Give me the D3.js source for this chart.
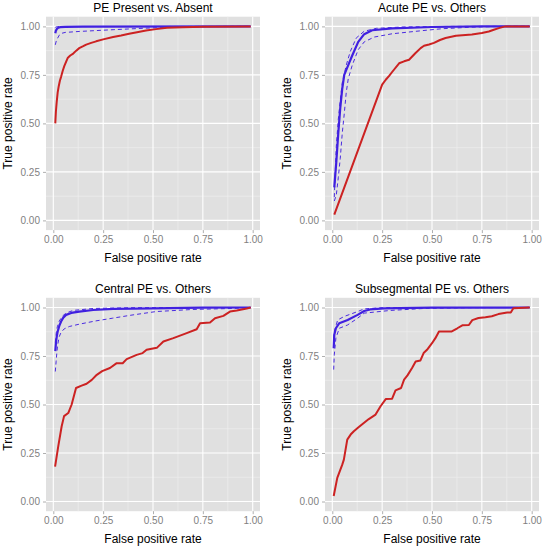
<!DOCTYPE html>
<html><head><meta charset="utf-8">
<script src="https://cdn.jsdelivr.net/npm/d3@7"></script>
<style>html,body{margin:0;padding:0;background:#fff;}</style>
</head><body>
<script>
// ---- Data (FPR, TPR) ----
const titles = ["PE Present vs. Absent","Acute PE vs. Others","Central PE vs. Others","Subsegmental PE vs. Others"];
const tickValues = [0,0.25,0.5,0.75,1];
const tickLabels = ["0.00","0.25","0.50","0.75","1.00"];
const xTitle = "False positive rate";
const yTitle = "True positive rate";

// Panel 1: PE Present vs. Absent
const p1Red = [[0.01,0.50],[0.013,0.56],[0.017,0.61],[0.022,0.66],[0.027,0.69],[0.033,0.72],[0.039,0.74],[0.047,0.77],[0.055,0.795],[0.065,0.82],[0.072,0.837],[0.085,0.85],[0.10,0.86],[0.115,0.875],[0.13,0.888],[0.15,0.898],[0.165,0.906],[0.19,0.915],[0.215,0.923],[0.25,0.933],[0.30,0.945],[0.34,0.953],[0.38,0.962],[0.42,0.97],[0.465,0.979],[0.515,0.986],[0.57,0.993],[0.65,0.996],[0.75,0.998],[0.99,1.0]];
const p1Blue = [[0.01,0.965],[0.013,0.978],[0.018,0.987],[0.025,0.993],[0.035,0.996],[0.06,0.998],[0.15,0.999],[0.99,1.0]];
const p1BlueLo = [[0.01,0.905],[0.015,0.925],[0.022,0.94],[0.03,0.955],[0.04,0.964],[0.06,0.969],[0.13,0.974],[0.30,0.983],[0.465,0.991],[0.6,0.996],[0.75,0.999],[0.99,1.0]];
const p1BlueHi = [[0.01,0.995],[0.02,0.999],[0.99,1.0]];

// Panel 2: Acute PE vs. Others
const p2Red = [[0.01,0.03],[0.25,0.70],[0.268,0.725],[0.285,0.745],[0.30,0.765],[0.335,0.81],[0.36,0.82],[0.385,0.828],[0.415,0.86],[0.443,0.888],[0.46,0.90],[0.485,0.907],[0.51,0.915],[0.54,0.93],[0.568,0.94],[0.62,0.952],[0.70,0.958],[0.75,0.966],[0.785,0.974],[0.81,0.983],[0.835,0.991],[0.868,1.0],[0.99,1.0]];
const p2Blue = [[0.01,0.17],[0.02,0.30],[0.03,0.45],[0.04,0.58],[0.05,0.68],[0.06,0.75],[0.08,0.80],[0.10,0.85],[0.13,0.92],[0.16,0.96],[0.20,0.98],[0.30,0.99],[0.50,0.997],[0.75,1.0],[0.99,1.0]];
const p2BlueHi = [[0.01,0.12],[0.02,0.38],[0.03,0.52],[0.04,0.62],[0.05,0.71],[0.07,0.80],[0.09,0.87],[0.12,0.94],[0.16,0.975],[0.22,0.99],[0.35,0.997],[0.6,1.0],[0.99,1.0]];
const p2BlueLo = [[0.01,0.10],[0.02,0.13],[0.03,0.22],[0.04,0.32],[0.05,0.45],[0.06,0.55],[0.07,0.66],[0.08,0.73],[0.10,0.80],[0.13,0.88],[0.16,0.92],[0.21,0.945],[0.30,0.962],[0.45,0.978],[0.55,0.988],[0.70,0.996],[0.85,1.0],[0.99,1.0]];

// Panel 3: Central PE vs. Others
const p3Red = [[0.009,0.18],[0.025,0.285],[0.042,0.388],[0.054,0.44],[0.075,0.456],[0.092,0.50],[0.114,0.585],[0.142,0.597],[0.167,0.607],[0.193,0.627],[0.218,0.653],[0.245,0.672],[0.284,0.688],[0.318,0.713],[0.348,0.713],[0.368,0.734],[0.418,0.756],[0.448,0.765],[0.468,0.782],[0.519,0.792],[0.552,0.825],[0.602,0.842],[0.669,0.868],[0.719,0.888],[0.736,0.919],[0.786,0.923],[0.811,0.945],[0.853,0.957],[0.886,0.979],[0.92,0.985],[0.97,0.995],[0.99,1.0]];
const p3Blue = [[0.01,0.775],[0.014,0.825],[0.018,0.855],[0.022,0.876],[0.03,0.905],[0.039,0.928],[0.05,0.948],[0.064,0.962],[0.09,0.972],[0.13,0.979],[0.2,0.987],[0.3,0.993],[0.5,0.996],[0.75,0.999],[0.99,1.0]];
const p3BlueLo = [[0.01,0.67],[0.014,0.72],[0.018,0.77],[0.022,0.808],[0.03,0.85],[0.039,0.872],[0.055,0.89],[0.08,0.902],[0.13,0.914],[0.214,0.931],[0.298,0.945],[0.381,0.959],[0.515,0.979],[0.7,0.99],[0.9,0.995],[0.99,1.0]];
const p3BlueHi = [[0.01,0.82],[0.015,0.87],[0.02,0.90],[0.03,0.93],[0.045,0.955],[0.065,0.972],[0.1,0.985],[0.2,0.995],[0.4,0.999],[0.99,1.0]];

// Panel 4: Subsegmental PE vs. Others
const p4Red = [[0.007,0.028],[0.025,0.122],[0.05,0.19],[0.058,0.216],[0.075,0.319],[0.092,0.345],[0.108,0.362],[0.133,0.384],[0.158,0.405],[0.183,0.425],[0.217,0.448],[0.242,0.491],[0.268,0.528],[0.30,0.53],[0.317,0.573],[0.345,0.585],[0.36,0.628],[0.377,0.65],[0.40,0.688],[0.418,0.722],[0.442,0.727],[0.458,0.765],[0.475,0.782],[0.50,0.816],[0.517,0.842],[0.535,0.876],[0.597,0.876],[0.627,0.893],[0.652,0.908],[0.685,0.91],[0.702,0.935],[0.733,0.946],[0.768,0.95],[0.80,0.955],[0.833,0.966],[0.877,0.974],[0.895,0.974],[0.908,0.996],[0.99,1.0]];
const p4Blue = [[0.007,0.79],[0.01,0.86],[0.018,0.893],[0.035,0.919],[0.077,0.936],[0.127,0.962],[0.16,0.982],[0.19,0.99],[0.26,0.995],[0.5,0.999],[0.99,1.0]];
const p4BlueLo = [[0.007,0.68],[0.01,0.756],[0.018,0.842],[0.035,0.893],[0.077,0.91],[0.127,0.945],[0.16,0.971],[0.293,0.985],[0.46,0.995],[0.7,0.999],[0.99,1.0]];
const p4BlueHi = [[0.007,0.84],[0.01,0.876],[0.027,0.936],[0.06,0.954],[0.127,0.979],[0.16,0.993],[0.25,0.999],[0.99,1.0]];

const panels = [
  {title: titles[0], red: p1Red, blue: p1Blue, lo: p1BlueLo, hi: p1BlueHi, left: 46, top: 16.7},
  {title: titles[1], red: p2Red, blue: p2Blue, lo: p2BlueLo, hi: p2BlueHi, left: 325, top: 16.7},
  {title: titles[2], red: p3Red, blue: p3Blue, lo: p3BlueLo, hi: p3BlueHi, left: 46, top: 297.8},
  {title: titles[3], red: p4Red, blue: p4Blue, lo: p4BlueLo, hi: p4BlueHi, left: 325, top: 297.8}
];

const W = 546, H = 546, PW = 214, PH = 213.4;
const font = "'Liberation Sans', Arial, Helvetica, sans-serif";
const svg = d3.select("body").append("svg").attr("width", W).attr("height", H)
  .style("background", "#fff");

const minor = [0.125, 0.375, 0.625, 0.875];

panels.forEach(p => {
  const x = d3.scaleLinear().domain([-0.0366, 1.0366]).range([0, PW]);
  const y = d3.scaleLinear().domain([-0.05, 1.05]).range([PH, 0]);
  const g = svg.append("g").attr("transform", `translate(${p.left},${p.top})`);

  g.append("rect").attr("width", PW).attr("height", PH).attr("fill", "#e0e0e0");

  // minor grid
  g.selectAll(".mx").data(minor).enter().append("line")
    .attr("x1", d => x(d)).attr("x2", d => x(d)).attr("y1", 0).attr("y2", PH)
    .attr("stroke", "#f0f0f0").attr("stroke-width", 0.6);
  g.selectAll(".my").data(minor).enter().append("line")
    .attr("y1", d => y(d)).attr("y2", d => y(d)).attr("x1", 0).attr("x2", PW)
    .attr("stroke", "#f0f0f0").attr("stroke-width", 0.6);
  // major grid
  g.selectAll(".gx").data(tickValues).enter().append("line")
    .attr("x1", d => x(d)).attr("x2", d => x(d)).attr("y1", 0).attr("y2", PH)
    .attr("stroke", "#fff").attr("stroke-width", 1.1);
  g.selectAll(".gy").data(tickValues).enter().append("line")
    .attr("y1", d => y(d)).attr("y2", d => y(d)).attr("x1", 0).attr("x2", PW)
    .attr("stroke", "#fff").attr("stroke-width", 1.1);

  // axes
  const xa = g.append("g").attr("transform", `translate(0,${PH})`)
    .call(d3.axisBottom(x).tickValues(tickValues).tickFormat((d, i) => tickLabels[i]).tickSize(3).tickPadding(3));
  const ya = g.append("g")
    .call(d3.axisLeft(y).tickValues(tickValues).tickFormat((d, i) => tickLabels[i]).tickSize(3).tickPadding(3));
  [xa, ya].forEach(a => {
    a.select(".domain").remove();
    a.selectAll(".tick line").attr("stroke", "#9a9a9a").attr("stroke-width", 0.8);
    a.selectAll(".tick text").attr("fill", "#7f7f7f").style("font-family", font).style("font-size", "10px");
  });

  const line = d3.line().x(d => x(d[0])).y(d => y(d[1]));
  [p.hi, p.lo].forEach(s => {
    g.append("path").datum(s).attr("d", line).attr("fill", "none")
      .attr("stroke", "#4a2be0").attr("stroke-width", 1).attr("stroke-dasharray", "4,3");
  });
  g.append("path").datum(p.blue).attr("d", line).attr("fill", "none")
    .attr("stroke", "#4020e0").attr("stroke-width", 2.2).attr("stroke-linejoin", "round");
  g.append("path").datum(p.red).attr("d", line).attr("fill", "none")
    .attr("stroke", "#cc2222").attr("stroke-width", 2).attr("stroke-linejoin", "round");

  // titles
  g.append("text").attr("x", PW / 2).attr("y", -5).attr("text-anchor", "middle")
    .style("font-family", font).style("font-size", "12px").attr("fill", "#000").text(p.title);
  g.append("text").attr("x", PW / 2).attr("y", PH + 32).attr("text-anchor", "middle")
    .style("font-family", font).style("font-size", "12px").attr("fill", "#000").text(xTitle);
  g.append("text").attr("transform", `translate(-34.5,${PH / 2}) rotate(-90)`).attr("text-anchor", "middle")
    .style("font-family", font).style("font-size", "12px").attr("fill", "#000").text(yTitle);
});
</script>
</body></html>
